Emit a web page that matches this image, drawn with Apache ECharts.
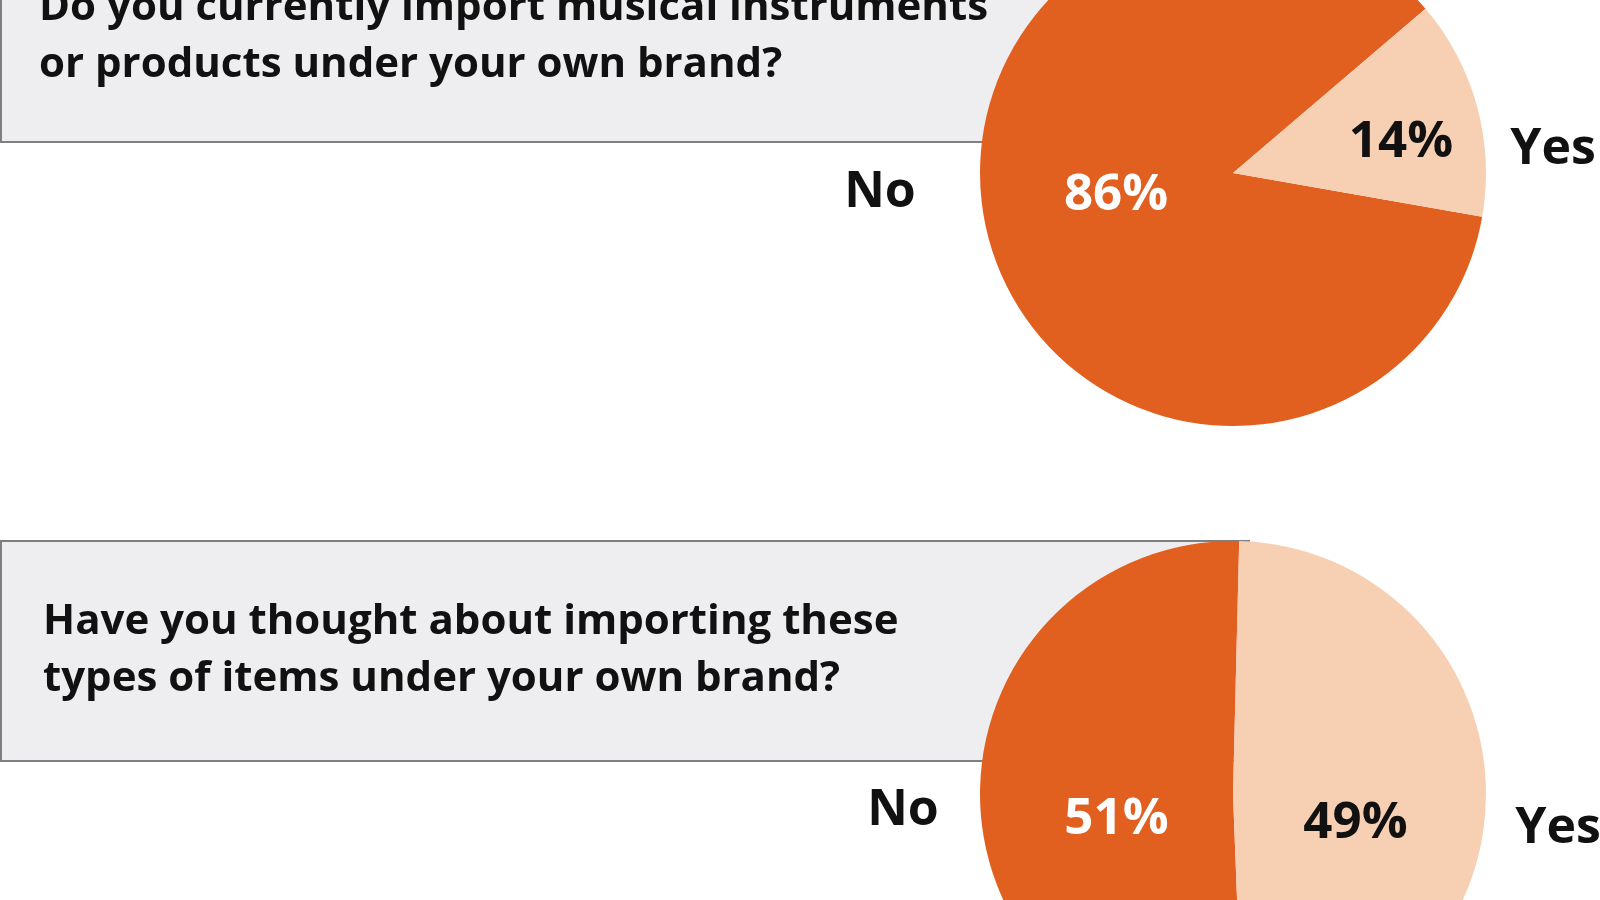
<!DOCTYPE html>
<html>
<head>
<meta charset="utf-8">
<title>Own brand imports</title>
<script src="https://cdn.jsdelivr.net/npm/echarts@6/dist/echarts.min.js"></script>
<style>
  html, body { margin: 0; padding: 0; background: #fff; }
  #main { width: 1600px; height: 900px; }
</style>
</head>
<body>
<div id="main"></div>
<script>
  // data
  var categories = ['No', 'Yes'];
  var importNow = [86, 14];
  var thoughtAbout = [51, 49];
  var question1 = ['Do you currently import musical instruments', 'or products under your own brand?'];
  var question2 = ['Have you thought about importing these', 'types of items under your own brand?'];

  var DARK = '#E2601F';
  var LIGHT = '#F7CFB2';
  var FONT = 'Open Sans';

  var chart = echarts.init(document.getElementById('main'));

  function pieSeries(values, center, startAngle, shifts) {
    return {
      type: 'pie',
      center: center,
      radius: 253,
      startAngle: startAngle,
      clockwise: false,
      silent: true,
      animation: false,
      label: {
        show: true,
        position: 'inside',
        formatter: '{c}%',
        fontFamily: FONT,
        fontWeight: 'bold',
        fontSize: 51
      },
      labelLine: { show: false },
      labelLayout: function (p) {
        return { dx: shifts[p.dataIndex][0], dy: shifts[p.dataIndex][1] };
      },
      data: values.map(function (v, i) {
        return {
          name: categories[i],
          value: v,
          itemStyle: { color: i === 0 ? DARK : LIGHT },
          label: { color: i === 0 ? '#ffffff' : '#111111' }
        };
      })
    };
  }

  function box(y) {
    return {
      type: 'rect', z: 0,
      shape: { x: 1, y: y, width: 1248, height: 220 },
      style: { fill: '#EEEEF1', stroke: '#7F7F7F', lineWidth: 2 }
    };
  }
  function text(str, x, y, size) {
    return {
      type: 'text', z: 1, x: x, y: y,
      style: {
        text: str, fill: '#111111', font: 'bold ' + size + 'px "' + FONT + '"',
        align: 'left', verticalAlign: 'middle'
      }
    };
  }
  function catLabel(str, cx, cy) {
    return {
      type: 'text', z: 10, x: cx, y: cy,
      style: {
        text: str, fill: '#111111', font: 'bold 50px "' + FONT + '"',
        align: 'center', verticalAlign: 'middle'
      }
    };
  }

  var option = {
    backgroundColor: '#ffffff',
    animation: false,
    graphic: [
      box(-78),
      text(question1[0], 39, 8, 42),
      text(question1[1], 39, 65, 42),
      box(541),
      text(question2[0], 43, 622, 42),
      text(question2[1], 43, 679, 42),
      catLabel(categories[0], 880, 193),
      catLabel(categories[1], 1553, 150),
      catLabel(categories[0], 903, 811),
      catLabel(categories[1], 1558, 829)
    ],
    series: [
      pieSeries(importNow, [1233, 173], 40.45, [[8, -12], [43, 4]]),
      pieSeries(thoughtAbout, [1233, 794], 88.6, [[13, 25], [-7, 30]])
    ]
  };

  chart.setOption(option);
</script>
</body>
</html>
